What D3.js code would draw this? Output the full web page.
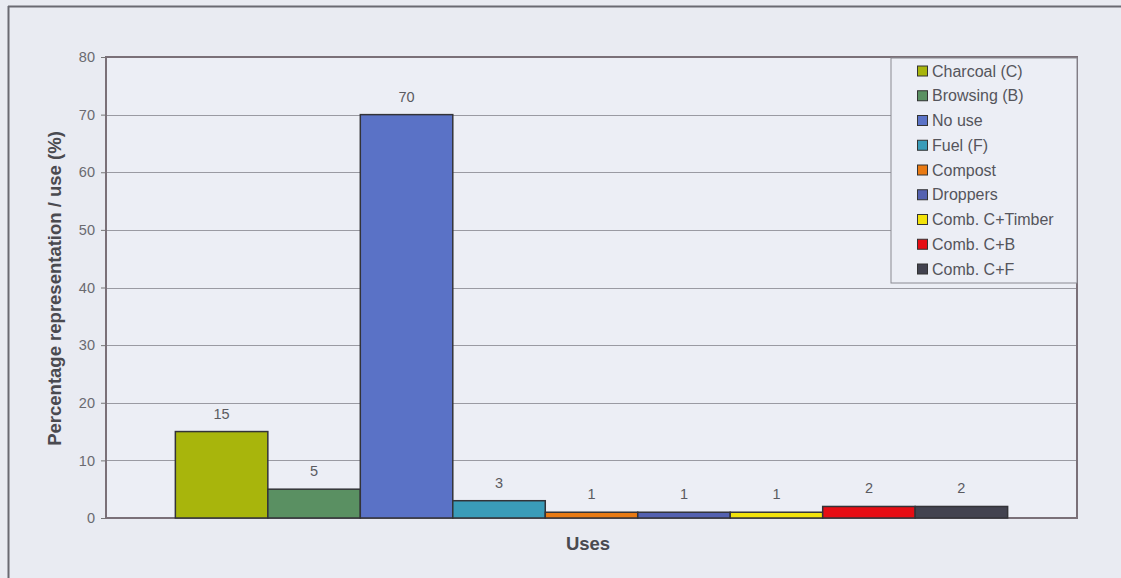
<!DOCTYPE html>
<html><head><meta charset="utf-8">
<script src="https://cdn.jsdelivr.net/npm/d3@7"></script>
<style>body{margin:0;background:#e9ebf2;}svg{display:block;}</style>
</head><body>
<svg id="c" width="1121" height="578"></svg>
<script>
const seriesNames = ["Charcoal (C)","Browsing (B)","No use","Fuel (F)","Compost","Droppers","Comb. C+Timber","Comb. C+B","Comb. C+F"];
const seriesValues = [15,5,70,3,1,1,1,2,2];
const seriesColors = ["#a8b50c","#5a9062","#5a72c6","#3a9cb9","#e97a14","#5461b0","#f2e20a","#e60d14","#42424f"];
const yTicks = [0,10,20,30,40,50,60,70,80];
const category = ["Uses"];

const svg = d3.select("#c");
const W = 1121, H = 578;
const FONT = "Liberation Sans, Arial, sans-serif";
svg.append("rect").attr("width",W).attr("height",H).attr("fill","#e9ebf2");
// outer frame
svg.append("line").attr("x1",8).attr("x2",W).attr("y1",6.5).attr("y2",6.5).attr("stroke","#6a6a72").attr("stroke-width",2);
svg.append("line").attr("x1",8.5).attr("x2",8.5).attr("y1",6).attr("y2",H).attr("stroke","#6a6a72").attr("stroke-width",2);

const m = {l:106, t:57, r:1077, b:518};
const y = d3.scaleLinear().domain([0,80]).range([m.b,m.t]);
// Excel-style gap width 150%
const catW = m.r - m.l;
const barW = catW/(seriesNames.length+1.5);
const x1 = d3.scaleBand().domain(seriesNames).range([m.l+0.75*barW, m.r-0.75*barW]).padding(0);

const g = svg.append("g");
g.append("rect").attr("x",m.l).attr("y",m.t).attr("width",m.r-m.l).attr("height",m.b-m.t).attr("fill","#eceef5");

// gridlines
g.selectAll(".grid").data(yTicks.filter(d=>d>0 && d<80)).join("line")
  .attr("x1",m.l).attr("x2",m.r).attr("y1",d=>Math.round(y(d))+0.5).attr("y2",d=>Math.round(y(d))+0.5)
  .attr("stroke","#9a9aa2").attr("stroke-width",1);

// axis
const ax = d3.axisLeft(y).tickValues(yTicks).tickSize(5).tickPadding(6);
const axg = svg.append("g").attr("transform",`translate(${m.l},0)`).call(ax);
axg.select(".domain").remove();
axg.selectAll("line").attr("stroke","#777");
axg.selectAll("text").attr("font-family",FONT).attr("font-size",14.5).attr("fill","#6a6a70");

// plot border
svg.append("rect").attr("x",m.l).attr("y",m.t).attr("width",m.r-m.l).attr("height",m.b-m.t)
  .attr("fill","none").attr("stroke","#7a7078").attr("stroke-width",2);

// bars
const data = seriesNames.map((n,i)=>({name:n,value:seriesValues[i],color:seriesColors[i]}));
svg.selectAll(".bar").data(data).join("rect")
  .attr("x",d=>x1(d.name)).attr("width",x1.bandwidth())
  .attr("y",d=>y(d.value)).attr("height",d=>m.b-y(d.value))
  .attr("fill",d=>d.color).attr("stroke","#333338").attr("stroke-width",1.5);

// labels
svg.selectAll(".lbl").data(data).join("text")
  .attr("x",d=>x1(d.name)+x1.bandwidth()/2).attr("y",d=>y(d.value)-13)
  .attr("text-anchor","middle").attr("font-family",FONT)
  .attr("font-size",14.5).attr("fill","#5a5a60").text(d=>d.value);

// axis titles
svg.append("text").attr("transform",`translate(61,${(m.t+m.b)/2+1}) rotate(-90)`)
  .attr("text-anchor","middle").attr("font-family",FONT)
  .attr("font-weight","bold").attr("font-size",18.5).attr("fill","#4a4a50")
  .text("Percentage representation / use (%)");
svg.append("text").attr("x",588).attr("y",550).attr("text-anchor","middle")
  .attr("font-family",FONT).attr("font-weight","bold")
  .attr("font-size",18.5).attr("fill","#4a4a50").text(category[0]);

// legend
const lg = svg.append("g");
lg.append("rect").attr("x",891).attr("y",58).attr("width",186).attr("height",225)
  .attr("fill","#eceef5").attr("stroke","#8a8a92").attr("stroke-width",1);
const li = lg.selectAll(".li").data(data).join("g")
  .attr("transform",(d,i)=>`translate(917,${71+i*24.75})`);
li.append("rect").attr("x",0.5).attr("y",-5).attr("width",10).attr("height",10)
  .attr("fill",d=>d.color).attr("stroke","#333").attr("stroke-width",1);
li.append("text").attr("x",15).attr("y",5.5).attr("font-family",FONT)
  .attr("font-size",16).attr("fill","#55555c").text(d=>d.name);
</script>
</body></html>
